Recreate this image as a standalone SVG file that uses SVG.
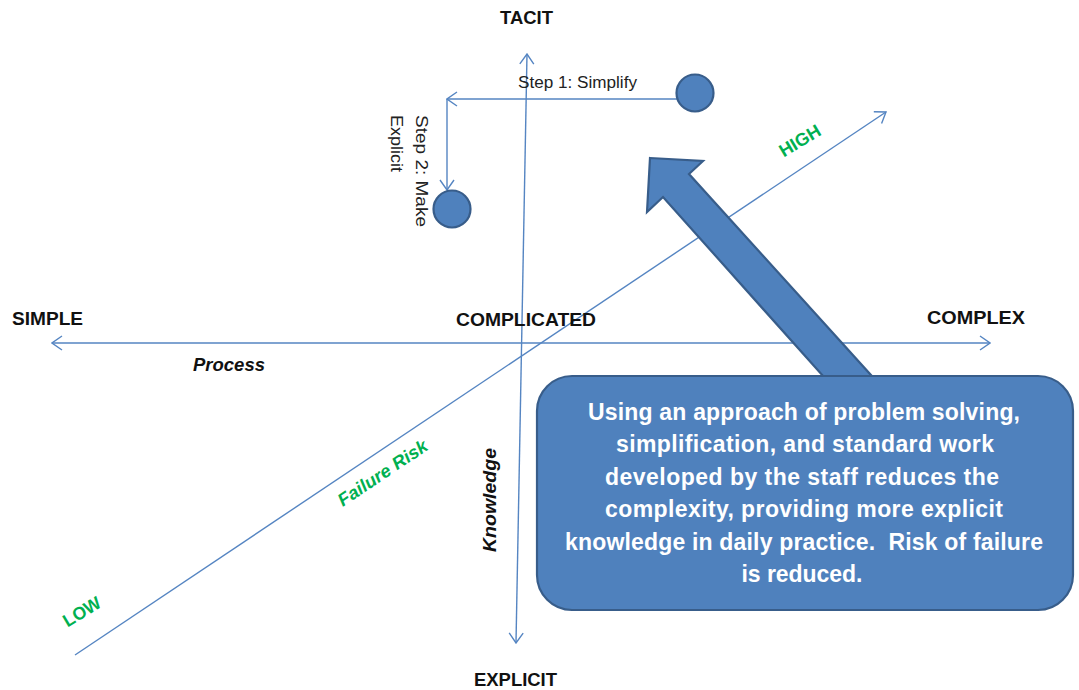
<svg xmlns="http://www.w3.org/2000/svg" width="1079" height="690" viewBox="0 0 1079 690">
  <style>
    .ax { fill: none; stroke: #5585C2; stroke-width: 1.4; }
    .lbl { font-family: "Liberation Sans", Arial, sans-serif; font-weight: bold; font-size: 19px; fill: #111; }
    .it { font-family: "Liberation Sans", Arial, sans-serif; font-weight: bold; font-style: italic; font-size: 18px; fill: #111; }
    .grn { font-family: "Liberation Sans", Arial, sans-serif; font-weight: bold; font-size: 18px; fill: #00B050; }
    .grni { font-family: "Liberation Sans", Arial, sans-serif; font-weight: bold; font-style: italic; font-size: 18px; fill: #00B050; }
    .step { font-family: "Liberation Sans", Arial, sans-serif; font-size: 16px; fill: #222; }
    .shape { fill: #4F81BD; stroke: #385D8A; stroke-width: 2.2; }
    .box { font-family: "Liberation Sans", Arial, sans-serif; font-weight: bold; font-size: 23px; fill: #FFFFFF; text-anchor: middle; }
  </style>
  <defs>
    <marker id="chev" viewBox="0 0 12 16" refX="11" refY="8" markerWidth="12" markerHeight="16" markerUnits="userSpaceOnUse" orient="auto-start-reverse">
      <path d="M1,1 L11,8 L1,15" fill="none" stroke="#5585C2" stroke-width="1.4"/>
    </marker>
  </defs>

  <rect width="1079" height="690" fill="#FFFFFF"/>

  <g id="connectors">
    <line id="axis-process" class="ax" x1="52" y1="343" x2="990" y2="343" marker-start="url(#chev)" marker-end="url(#chev)"/>
    <line id="axis-knowledge" class="ax" x1="527" y1="54" x2="516" y2="643" marker-start="url(#chev)" marker-end="url(#chev)"/>
    <line id="axis-risk" class="ax" x1="75" y1="655" x2="886" y2="112" marker-end="url(#chev)"/>
    <line id="step1" class="ax" x1="677" y1="99" x2="447" y2="99" marker-end="url(#chev)"/>
    <line id="step2" class="ax" x1="447" y1="99" x2="447" y2="190" marker-end="url(#chev)"/>
  </g>

  <g id="axis-labels">
    <text class="lbl" x="500" y="24" textLength="53" lengthAdjust="spacingAndGlyphs">TACIT</text>
    <text class="lbl" x="474" y="686" textLength="83" lengthAdjust="spacingAndGlyphs">EXPLICIT</text>
    <text class="lbl" x="12" y="325" textLength="71" lengthAdjust="spacingAndGlyphs">SIMPLE</text>
    <text class="lbl" x="456" y="326" textLength="140" lengthAdjust="spacingAndGlyphs">COMPLICATED</text>
    <text class="lbl" x="927" y="324" textLength="98" lengthAdjust="spacingAndGlyphs">COMPLEX</text>
    <text class="it" x="193" y="371" textLength="72" lengthAdjust="spacingAndGlyphs">Process</text>
    <text class="it" transform="translate(496,552) rotate(-90)" textLength="104" lengthAdjust="spacingAndGlyphs">Knowledge</text>
    <text class="grni" text-anchor="middle" transform="translate(386,478) rotate(-33.9)" textLength="104" lengthAdjust="spacingAndGlyphs">Failure Risk</text>
    <text class="grn" text-anchor="middle" transform="translate(85,617) rotate(-31)" textLength="41" lengthAdjust="spacingAndGlyphs">LOW</text>
    <text class="grn" text-anchor="middle" transform="translate(803,146) rotate(-31)" textLength="45" lengthAdjust="spacingAndGlyphs">HIGH</text>
  </g>

  <g id="step-labels">
    <text class="step" x="518" y="88" textLength="119" lengthAdjust="spacingAndGlyphs">Step 1: Simplify</text>
    <text class="step" transform="translate(416,115) rotate(90)" textLength="112" lengthAdjust="spacingAndGlyphs">Step 2: Make</text>
    <text class="step" transform="translate(391,115) rotate(90)" textLength="57" lengthAdjust="spacingAndGlyphs">Explicit</text>
  </g>

  <g id="node-start">
    <circle class="shape" cx="695" cy="93" r="18.5"/>
  </g>
  <g id="node-end">
    <circle class="shape" cx="452" cy="209" r="18.5"/>
  </g>

  <g id="big-arrow">
    <polygon class="shape" points="650,158 703,161 689,174 889,395 840,395 663,197 647,212"/>
  </g>

  <g id="callout">
    <rect class="shape" x="537" y="376" width="536" height="234" rx="35" ry="35" stroke-width="2.5"/>
    <text class="box" x="804" y="420" textLength="432" lengthAdjust="spacing">Using an approach of problem solving,</text>
    <text class="box" x="805" y="452" textLength="378" lengthAdjust="spacing">simplification, and standard work</text>
    <text class="box" x="802" y="485" textLength="394" lengthAdjust="spacing">developed by the staff reduces the</text>
    <text class="box" x="804" y="517" textLength="398" lengthAdjust="spacing">complexity, providing more explicit</text>
    <text class="box" x="804" y="550" textLength="478" lengthAdjust="spacing" xml:space="preserve">knowledge in daily practice.  Risk of failure</text>
    <text class="box" x="802" y="582" textLength="121" lengthAdjust="spacing">is reduced.</text>
  </g>
</svg>
